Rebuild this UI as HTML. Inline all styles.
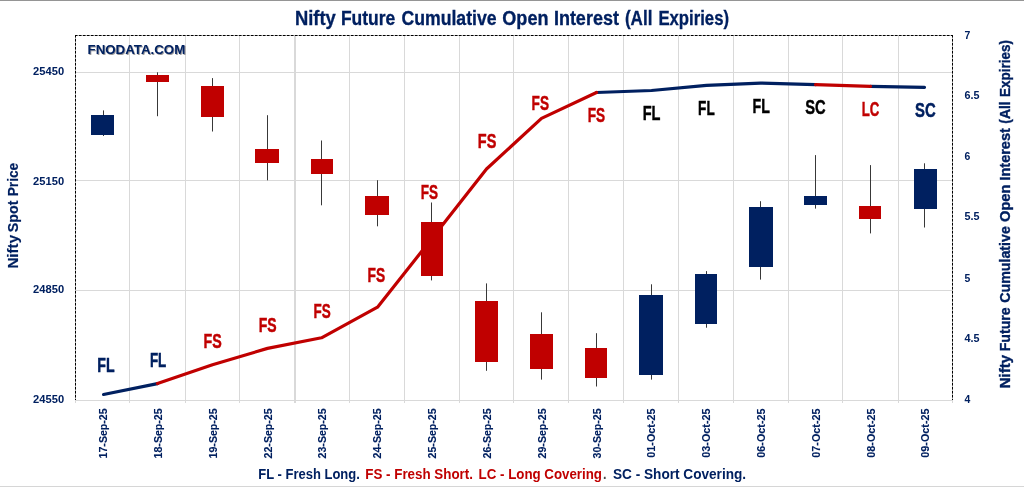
<!DOCTYPE html>
<html lang="en"><head><meta charset="utf-8"><title>Nifty Future Cumulative Open Interest (All Expiries)</title>
<style>html,body{margin:0;padding:0;background:#fff;overflow:hidden}svg{display:block}text{font-family:"Liberation Sans",sans-serif;font-weight:bold}</style>
</head><body>
<svg width="1024" height="487" viewBox="0 0 1024 487">
<defs><filter id="sh" x="-10%" y="-30%" width="120%" height="170%"><feDropShadow dx="0.9" dy="0.9" stdDeviation="0.7" flood-color="#000" flood-opacity="0.45"/></filter></defs>
<rect x="0" y="0" width="1024" height="487" fill="#fff"/>
<rect x="0" y="0" width="1024" height="1" fill="#959595"/>
<rect x="0" y="486" width="1024" height="1" fill="#d6d6d6"/>
<g shape-rendering="crispEdges" fill="#D9D9D9">
<rect x="129" y="36" width="1" height="367"/>
<rect x="185" y="36" width="1" height="367"/>
<rect x="239" y="36" width="1" height="367"/>
<rect x="294" y="36" width="1" height="367"/>
<rect x="295" y="36" width="1" height="367"/>
<rect x="349" y="36" width="1" height="367"/>
<rect x="404" y="36" width="1" height="367"/>
<rect x="459" y="36" width="1" height="367"/>
<rect x="513" y="36" width="1" height="367"/>
<rect x="568" y="36" width="1" height="367"/>
<rect x="623" y="36" width="1" height="367"/>
<rect x="678" y="36" width="1" height="367"/>
<rect x="733" y="36" width="1" height="367"/>
<rect x="788" y="36" width="1" height="367"/>
<rect x="842" y="36" width="1" height="367"/>
<rect x="898" y="36" width="1" height="367"/>
<rect x="76" y="72" width="876" height="1"/>
<rect x="76" y="180" width="876" height="1"/>
<rect x="76" y="290" width="876" height="1"/>
<rect x="75" y="400" width="878" height="1"/>
<rect x="75" y="400" width="1" height="3"/>
<rect x="952" y="400" width="1" height="3"/>
</g>
<g stroke="#b4b4b4" stroke-width="1" fill="none">
<path d="M75 35.5 H953 M75.5 35 V400 M952.5 35 V400"/>
</g>
<g stroke="#000" stroke-width="1" fill="none" stroke-dasharray="2.5 1.5">
<path d="M75 35.5 H953 M75.5 35 V400 M952.5 35 V400"/>
</g>
<g fill="none" stroke-width="3.2" stroke-linecap="round" stroke-linejoin="round">
<path d="M103.5 394.5 L157.5 383.6" stroke="#002060"/>
<path d="M596.5 92.5 L651.5 90.5 L706.5 85.4 L760.5 83.1 L815.5 84.6" stroke="#002060"/>
<path d="M870.5 86.3 L924.5 87.3" stroke="#002060"/>
<path d="M157.5 383.6 L212.5 364.8 L267.5 348.4 L321.5 337.8 L377.5 307.2 L431.5 239.0 L486.5 169.0 L541.5 118.4 L596.5 92.5" stroke="#C00000"/>
<path d="M815.5 84.6 L870.5 86.3" stroke="#C00000"/>
</g>
<g shape-rendering="crispEdges">
<rect x="103" y="110.4" width="1" height="25.6" fill="#383838" shape-rendering="auto"/>
<rect x="91" y="115" width="23" height="20" fill="#002060"/>
<rect x="157" y="72.3" width="1" height="43.9" fill="#383838" shape-rendering="auto"/>
<rect x="146" y="75" width="23" height="7" fill="#C00000"/>
<rect x="212" y="78.1" width="1" height="53.4" fill="#383838" shape-rendering="auto"/>
<rect x="201" y="86" width="23" height="31" fill="#C00000"/>
<rect x="267" y="115.2" width="1" height="65.1" fill="#383838" shape-rendering="auto"/>
<rect x="255" y="149" width="24" height="14" fill="#C00000"/>
<rect x="321" y="140.5" width="1" height="64.8" fill="#383838" shape-rendering="auto"/>
<rect x="311" y="159" width="22" height="15" fill="#C00000"/>
<rect x="377" y="180.2" width="1" height="46.1" fill="#383838" shape-rendering="auto"/>
<rect x="365" y="196" width="24" height="19" fill="#C00000"/>
<rect x="431" y="202.5" width="1" height="77.9" fill="#383838" shape-rendering="auto"/>
<rect x="421" y="222" width="22" height="54" fill="#C00000"/>
<rect x="486" y="283.4" width="1" height="87.4" fill="#383838" shape-rendering="auto"/>
<rect x="475" y="301" width="23" height="61" fill="#C00000"/>
<rect x="541" y="312.3" width="1" height="67.3" fill="#383838" shape-rendering="auto"/>
<rect x="530" y="334" width="23" height="35" fill="#C00000"/>
<rect x="596" y="333.2" width="1" height="53.3" fill="#383838" shape-rendering="auto"/>
<rect x="585" y="348" width="22" height="30" fill="#C00000"/>
<rect x="651" y="284.3" width="1" height="95.3" fill="#383838" shape-rendering="auto"/>
<rect x="639" y="295" width="24" height="80" fill="#002060"/>
<rect x="706" y="271.1" width="1" height="56.6" fill="#383838" shape-rendering="auto"/>
<rect x="695" y="274" width="22" height="50" fill="#002060"/>
<rect x="760" y="201.2" width="1" height="78.4" fill="#383838" shape-rendering="auto"/>
<rect x="749" y="207" width="24" height="60" fill="#002060"/>
<rect x="815" y="155.1" width="1" height="53.5" fill="#383838" shape-rendering="auto"/>
<rect x="804" y="196" width="23" height="9" fill="#002060"/>
<rect x="870" y="165.1" width="1" height="68.3" fill="#383838" shape-rendering="auto"/>
<rect x="859" y="206" width="22" height="13" fill="#C00000"/>
<rect x="924" y="163.3" width="1" height="64.2" fill="#383838" shape-rendering="auto"/>
<rect x="914" y="169" width="23" height="40" fill="#002060"/>
</g>
<text y="24.6" font-size="19.5" fill="#002060" stroke="#002060" stroke-width="0.3"><tspan x="294.9" textLength="40.9" lengthAdjust="spacingAndGlyphs">Nifty</tspan> <tspan x="340.9" textLength="54.4" lengthAdjust="spacingAndGlyphs">Future</tspan> <tspan x="401.4" textLength="95.2" lengthAdjust="spacingAndGlyphs">Cumulative</tspan> <tspan x="502.3" textLength="46.2" lengthAdjust="spacingAndGlyphs">Open</tspan> <tspan x="553.9" textLength="65.0" lengthAdjust="spacingAndGlyphs">Interest</tspan> <tspan x="624.9" textLength="27.5" lengthAdjust="spacingAndGlyphs">(All</tspan> <tspan x="658.4" textLength="70.6" lengthAdjust="spacingAndGlyphs">Expiries)</tspan></text>
<text x="87.6" y="53.6" font-size="13" fill="#002060" text-anchor="start" textLength="97.6" lengthAdjust="spacingAndGlyphs" filter="url(#sh)">FNODATA.COM</text>
<text x="97.3" y="371.7" font-size="19.8" fill="#002060" text-anchor="start" textLength="17.3" lengthAdjust="spacingAndGlyphs" stroke="#002060" stroke-width="0.45">FL</text>
<text x="149.9" y="366.8" font-size="19.8" fill="#002060" text-anchor="start" textLength="16.4" lengthAdjust="spacingAndGlyphs" stroke="#002060" stroke-width="0.45">FL</text>
<text x="203.6" y="347.5" font-size="19.8" fill="#C00000" text-anchor="start" textLength="18.2" lengthAdjust="spacingAndGlyphs" stroke="#C00000" stroke-width="0.45">FS</text>
<text x="258.7" y="331.8" font-size="19.8" fill="#C00000" text-anchor="start" textLength="17.9" lengthAdjust="spacingAndGlyphs" stroke="#C00000" stroke-width="0.45">FS</text>
<text x="313.6" y="318.0" font-size="19.8" fill="#C00000" text-anchor="start" textLength="17.2" lengthAdjust="spacingAndGlyphs" stroke="#C00000" stroke-width="0.45">FS</text>
<text x="367.6" y="282.0" font-size="19.8" fill="#C00000" text-anchor="start" textLength="17.6" lengthAdjust="spacingAndGlyphs" stroke="#C00000" stroke-width="0.45">FS</text>
<text x="420.7" y="198.7" font-size="19.8" fill="#C00000" text-anchor="start" textLength="17.3" lengthAdjust="spacingAndGlyphs" stroke="#C00000" stroke-width="0.45">FS</text>
<text x="477.8" y="148.4" font-size="19.8" fill="#C00000" text-anchor="start" textLength="18.5" lengthAdjust="spacingAndGlyphs" stroke="#C00000" stroke-width="0.45">FS</text>
<text x="531.6" y="109.5" font-size="19.8" fill="#C00000" text-anchor="start" textLength="17.4" lengthAdjust="spacingAndGlyphs" stroke="#C00000" stroke-width="0.45">FS</text>
<text x="587.7" y="121.8" font-size="19.8" fill="#C00000" text-anchor="start" textLength="17.4" lengthAdjust="spacingAndGlyphs" stroke="#C00000" stroke-width="0.45">FS</text>
<text x="642.7" y="119.7" font-size="19.8" fill="#000" text-anchor="start" textLength="17.8" lengthAdjust="spacingAndGlyphs" stroke="#000" stroke-width="0.45">FL</text>
<text x="698.1" y="114.5" font-size="19.8" fill="#000" text-anchor="start" textLength="16.6" lengthAdjust="spacingAndGlyphs" stroke="#000" stroke-width="0.45">FL</text>
<text x="752.5" y="112.5" font-size="19.8" fill="#000" text-anchor="start" textLength="17.3" lengthAdjust="spacingAndGlyphs" stroke="#000" stroke-width="0.45">FL</text>
<text x="805.3" y="113.5" font-size="19.8" fill="#000" text-anchor="start" textLength="20.4" lengthAdjust="spacingAndGlyphs" stroke="#000" stroke-width="0.45">SC</text>
<text x="861.7" y="115.7" font-size="19.8" fill="#C00000" text-anchor="start" textLength="17.6" lengthAdjust="spacingAndGlyphs" stroke="#C00000" stroke-width="0.45">LC</text>
<text x="915.0" y="116.8" font-size="19.8" fill="#002060" text-anchor="start" textLength="20.6" lengthAdjust="spacingAndGlyphs" stroke="#002060" stroke-width="0.45">SC</text>
<text x="33.1" y="75.0" font-size="11.2" fill="#002060" text-anchor="start" textLength="31" lengthAdjust="spacingAndGlyphs">25450</text>
<text x="33.1" y="184.5" font-size="11.2" fill="#002060" text-anchor="start" textLength="31" lengthAdjust="spacingAndGlyphs">25150</text>
<text x="33.1" y="293.0" font-size="11.2" fill="#002060" text-anchor="start" textLength="31" lengthAdjust="spacingAndGlyphs">24850</text>
<text x="33.1" y="403.0" font-size="11.2" fill="#002060" text-anchor="start" textLength="31" lengthAdjust="spacingAndGlyphs">24550</text>
<text x="964.4" y="38.8" font-size="11.2" fill="#002060" text-anchor="start" textLength="5.8" lengthAdjust="spacingAndGlyphs">7</text>
<text x="964.4" y="98.8" font-size="11.2" fill="#002060" text-anchor="start" textLength="15.0" lengthAdjust="spacingAndGlyphs">6.5</text>
<text x="964.4" y="159.8" font-size="11.2" fill="#002060" text-anchor="start" textLength="5.8" lengthAdjust="spacingAndGlyphs">6</text>
<text x="964.4" y="219.8" font-size="11.2" fill="#002060" text-anchor="start" textLength="15.0" lengthAdjust="spacingAndGlyphs">5.5</text>
<text x="964.4" y="282.0" font-size="11.2" fill="#002060" text-anchor="start" textLength="5.8" lengthAdjust="spacingAndGlyphs">5</text>
<text x="964.4" y="341.6" font-size="11.2" fill="#002060" text-anchor="start" textLength="15.0" lengthAdjust="spacingAndGlyphs">4.5</text>
<text x="964.4" y="403.0" font-size="11.2" fill="#002060" text-anchor="start" textLength="5.8" lengthAdjust="spacingAndGlyphs">4</text>
<text transform="translate(18.2 268) rotate(-90)" font-size="14" stroke="#002060" stroke-width="0.15" fill="#002060"><tspan x="-0.6" textLength="33.7" lengthAdjust="spacingAndGlyphs">Nifty</tspan> <tspan x="35.8" textLength="31.6" lengthAdjust="spacingAndGlyphs">Spot</tspan> <tspan x="71.7" textLength="33.5" lengthAdjust="spacingAndGlyphs">Price</tspan></text>
<text transform="translate(1010.2 388.3) rotate(-90)" font-size="14.5" stroke="#002060" stroke-width="0.35" fill="#002060"><tspan x="0.1" textLength="33.2" lengthAdjust="spacingAndGlyphs">Nifty</tspan> <tspan x="37.0" textLength="44.0" lengthAdjust="spacingAndGlyphs">Future</tspan> <tspan x="85.5" textLength="76.7" lengthAdjust="spacingAndGlyphs">Cumulative</tspan> <tspan x="166.3" textLength="37.4" lengthAdjust="spacingAndGlyphs">Open</tspan> <tspan x="207.7" textLength="52.5" lengthAdjust="spacingAndGlyphs">Interest</tspan> <tspan x="264.6" textLength="22.4" lengthAdjust="spacingAndGlyphs">(All</tspan> <tspan x="291.4" textLength="57.0" lengthAdjust="spacingAndGlyphs">Expiries)</tspan></text>
<text transform="translate(107.1 458.4) rotate(-90)" font-size="11.4" fill="#002060" stroke="#002060" stroke-width="0.1" textLength="50" lengthAdjust="spacingAndGlyphs">17-Sep-25</text>
<text transform="translate(161.9 458.4) rotate(-90)" font-size="11.4" fill="#002060" stroke="#002060" stroke-width="0.1" textLength="50" lengthAdjust="spacingAndGlyphs">18-Sep-25</text>
<text transform="translate(216.8 458.4) rotate(-90)" font-size="11.4" fill="#002060" stroke="#002060" stroke-width="0.1" textLength="50" lengthAdjust="spacingAndGlyphs">19-Sep-25</text>
<text transform="translate(271.6 458.4) rotate(-90)" font-size="11.4" fill="#002060" stroke="#002060" stroke-width="0.1" textLength="50" lengthAdjust="spacingAndGlyphs">22-Sep-25</text>
<text transform="translate(326.4 458.4) rotate(-90)" font-size="11.4" fill="#002060" stroke="#002060" stroke-width="0.1" textLength="50" lengthAdjust="spacingAndGlyphs">23-Sep-25</text>
<text transform="translate(381.2 458.4) rotate(-90)" font-size="11.4" fill="#002060" stroke="#002060" stroke-width="0.1" textLength="50" lengthAdjust="spacingAndGlyphs">24-Sep-25</text>
<text transform="translate(436.0 458.4) rotate(-90)" font-size="11.4" fill="#002060" stroke="#002060" stroke-width="0.1" textLength="50" lengthAdjust="spacingAndGlyphs">25-Sep-25</text>
<text transform="translate(490.8 458.4) rotate(-90)" font-size="11.4" fill="#002060" stroke="#002060" stroke-width="0.1" textLength="50" lengthAdjust="spacingAndGlyphs">26-Sep-25</text>
<text transform="translate(545.7 458.4) rotate(-90)" font-size="11.4" fill="#002060" stroke="#002060" stroke-width="0.1" textLength="50" lengthAdjust="spacingAndGlyphs">29-Sep-25</text>
<text transform="translate(600.5 458.4) rotate(-90)" font-size="11.4" fill="#002060" stroke="#002060" stroke-width="0.1" textLength="50" lengthAdjust="spacingAndGlyphs">30-Sep-25</text>
<text transform="translate(655.3 457.7) rotate(-90)" font-size="11.4" fill="#002060" stroke="#002060" stroke-width="0.1" textLength="49.3" lengthAdjust="spacingAndGlyphs">01-Oct-25</text>
<text transform="translate(710.1 457.7) rotate(-90)" font-size="11.4" fill="#002060" stroke="#002060" stroke-width="0.1" textLength="49.3" lengthAdjust="spacingAndGlyphs">03-Oct-25</text>
<text transform="translate(765.0 457.7) rotate(-90)" font-size="11.4" fill="#002060" stroke="#002060" stroke-width="0.1" textLength="49.3" lengthAdjust="spacingAndGlyphs">06-Oct-25</text>
<text transform="translate(819.8 457.7) rotate(-90)" font-size="11.4" fill="#002060" stroke="#002060" stroke-width="0.1" textLength="49.3" lengthAdjust="spacingAndGlyphs">07-Oct-25</text>
<text transform="translate(874.6 457.7) rotate(-90)" font-size="11.4" fill="#002060" stroke="#002060" stroke-width="0.1" textLength="49.3" lengthAdjust="spacingAndGlyphs">08-Oct-25</text>
<text transform="translate(929.4 457.7) rotate(-90)" font-size="11.4" fill="#002060" stroke="#002060" stroke-width="0.1" textLength="49.3" lengthAdjust="spacingAndGlyphs">09-Oct-25</text>
<text x="258.3" y="478.7" font-size="14.0" fill="#002060" text-anchor="start" textLength="101.5" lengthAdjust="spacingAndGlyphs">FL - Fresh Long.</text>
<text x="365.3" y="478.7" font-size="14.0" fill="#C00000" text-anchor="start" textLength="107.7" lengthAdjust="spacingAndGlyphs">FS - Fresh Short.</text>
<text x="478.6" y="478.7" font-size="14.0" fill="#C00000" text-anchor="start" textLength="123.4" lengthAdjust="spacingAndGlyphs">LC - Long Covering</text>
<text x="603.0" y="478.7" font-size="14.0" fill="#4a4a4a" text-anchor="start" textLength="3.5" lengthAdjust="spacingAndGlyphs">.</text>
<text x="613.0" y="478.7" font-size="14.0" fill="#002060" text-anchor="start" textLength="133.1" lengthAdjust="spacingAndGlyphs">SC - Short Covering.</text>
</svg></body></html>
